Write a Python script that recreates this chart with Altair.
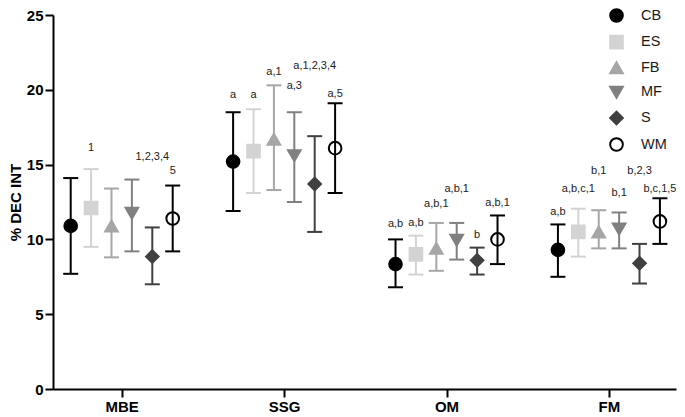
import altair as alt
import pandas as pd

groups = ["MBE", "SSG", "OM", "FM"]
series = ["CB", "ES", "FB", "MF", "S", "WM"]

CB_mean = [10.9, 15.2, 8.35, 9.3]
CB_lo = [7.7, 11.9, 6.8, 7.5]
CB_hi = [14.1, 18.5, 10.0, 11.0]
ES_mean = [12.1, 15.9, 9.0, 10.5]
ES_lo = [9.5, 13.1, 7.65, 8.85]
ES_hi = [14.7, 18.7, 10.25, 12.05]
FB_mean = [10.9, 16.7, 9.4, 10.5]
FB_lo = [8.8, 13.3, 7.9, 9.4]
FB_hi = [13.4, 20.3, 11.1, 11.95]
MF_mean = [11.75, 15.6, 9.95, 10.7]
MF_lo = [9.2, 12.5, 8.65, 9.4]
MF_hi = [14.0, 18.5, 11.1, 11.8]
S_mean = [8.85, 13.7, 8.6, 8.4]
S_lo = [7.0, 10.5, 7.65, 7.05]
S_hi = [10.8, 16.9, 9.45, 9.7]
WM_mean = [11.4, 16.1, 10.0, 11.2]
WM_lo = [9.2, 13.1, 8.35, 9.7]
WM_hi = [13.6, 19.1, 11.6, 12.75]

# significance letters and the value height at which they are written
CB_lab = ["", "a", "a,b", "a,b"]
CB_lab_y = [0, 19.66, 11.02, 11.86]
ES_lab = ["1", "a", "a,b", "a,b,c,1"]
ES_lab_y = [16.14, 19.66, 11.1, 13.34]
FB_lab = ["", "a,1", "a,b,1", "b,1"]
FB_lab_y = [0, 21.16, 12.39, 14.55]
MF_lab = ["", "a,3", "a,b,1", "b,1"]
MF_lab_y = [0, 20.28, 13.34, 13.12]
S_lab = ["1,2,3,4", "a,1,2,3,4", "b", "b,2,3"]
S_lab_y = [15.54, 21.56, 10.32, 14.55]
WM_lab = ["5", "a,5", "a,b,1", "b,c,1,5"]
WM_lab_y = [14.55, 19.73, 12.45, 13.34]

fills = ["#000000", "#d3d3d3", "#a6a6a6", "#808080", "#404040", "transparent"]
strokes = ["#000000", "#d3d3d3", "#a6a6a6", "#808080", "#404040", "#000000"]
shapes = ["circle", "square", "triangle-up", "triangle-down", "diamond", "circle"]

tables = {
    "CB": (CB_mean, CB_lo, CB_hi, CB_lab, CB_lab_y),
    "ES": (ES_mean, ES_lo, ES_hi, ES_lab, ES_lab_y),
    "FB": (FB_mean, FB_lo, FB_hi, FB_lab, FB_lab_y),
    "MF": (MF_mean, MF_lo, MF_hi, MF_lab, MF_lab_y),
    "S": (S_mean, S_lo, S_hi, S_lab, S_lab_y),
    "WM": (WM_mean, WM_lo, WM_hi, WM_lab, WM_lab_y),
}

dodge = 0.1256
rows = []
for k, s in enumerate(series):
    m, lo, hi, lab, laby = tables[s]
    for i, g in enumerate(groups):
        rows.append(dict(series=s, group=g, xpos=i + (k - 2.5) * dodge,
                         mean=m[i], lo=lo[i], hi=hi[i], lab=lab[i], laby=laby[i]))
df = pd.DataFrame(rows)

FONT = "Liberation Sans"
label_expr = "[" + ",".join("'%s'" % g for g in groups) + "][datum.value]"

x = alt.X("xpos:Q",
          scale=alt.Scale(domain=[-0.423, 3.413], nice=False, zero=False),
          axis=alt.Axis(values=[0, 1, 2, 3], labelExpr=label_expr, title=None,
                        labelPadding=2))
ysc = alt.Scale(domain=[0, 25], nice=False)
yax = alt.Axis(values=[0, 5, 10, 15, 20, 25], title="% DEC INT", titlePadding=3,
               labelPadding=2, titleFontSize=15, titleFontWeight="bold",
               titleFont=FONT, titleColor="#000000")

leg = alt.Legend(title=None, orient="none", legendX=556, legendY=-7, labelFontSize=14.5,
                 labelFont=FONT, labelColor="#1a1a1a", symbolSize=160, symbolStrokeWidth=2,
                 symbolOpacity=1, rowPadding=5.6, labelOffset=17, padding=0)

stk = alt.Stroke("series:N", sort=series, scale=alt.Scale(domain=series, range=strokes), legend=leg)

base = alt.Chart(df)

bars = base.mark_rule(strokeWidth=2).encode(
    x=x, y=alt.Y("lo:Q", scale=ysc, axis=yax), y2="hi:Q", stroke=stk)
cap_hi = base.mark_rule(strokeWidth=2, xOffset=-7.5, x2Offset=7.5).encode(
    x=x, x2="xpos:Q", y=alt.Y("hi:Q", scale=ysc), stroke=stk)
cap_lo = base.mark_rule(strokeWidth=2, xOffset=-7.5, x2Offset=7.5).encode(
    x=x, x2="xpos:Q", y=alt.Y("lo:Q", scale=ysc), stroke=stk)

points = base.mark_point(size=160, strokeWidth=2, opacity=1, filled=False).encode(
    x=x,
    y=alt.Y("mean:Q", scale=ysc),
    stroke=stk,
    shape=alt.Shape("series:N", sort=series, scale=alt.Scale(domain=series, range=shapes), legend=leg),
    fill=alt.Fill("series:N", sort=series, scale=alt.Scale(domain=series, range=fills), legend=leg),
)

texts = base.transform_filter("datum.lab != ''").mark_text(
    fontSize=11, font=FONT, color="#222222").encode(
    x=x, y=alt.Y("laby:Q", scale=ysc), text="lab:N")

chart = alt.layer(bars, cap_hi, cap_lo, points, texts).properties(
    width=623, height=374, padding=0
).configure_view(stroke=None).configure_axis(
    grid=False, domainColor="#000000", domainWidth=2, tickColor="#000000",
    tickWidth=2, tickSize=8, labelFont=FONT, labelFontWeight="bold",
    labelFontSize=15, labelColor="#000000"
)

chart.save("out.html", embed_options={"renderer": "svg", "actions": False})
